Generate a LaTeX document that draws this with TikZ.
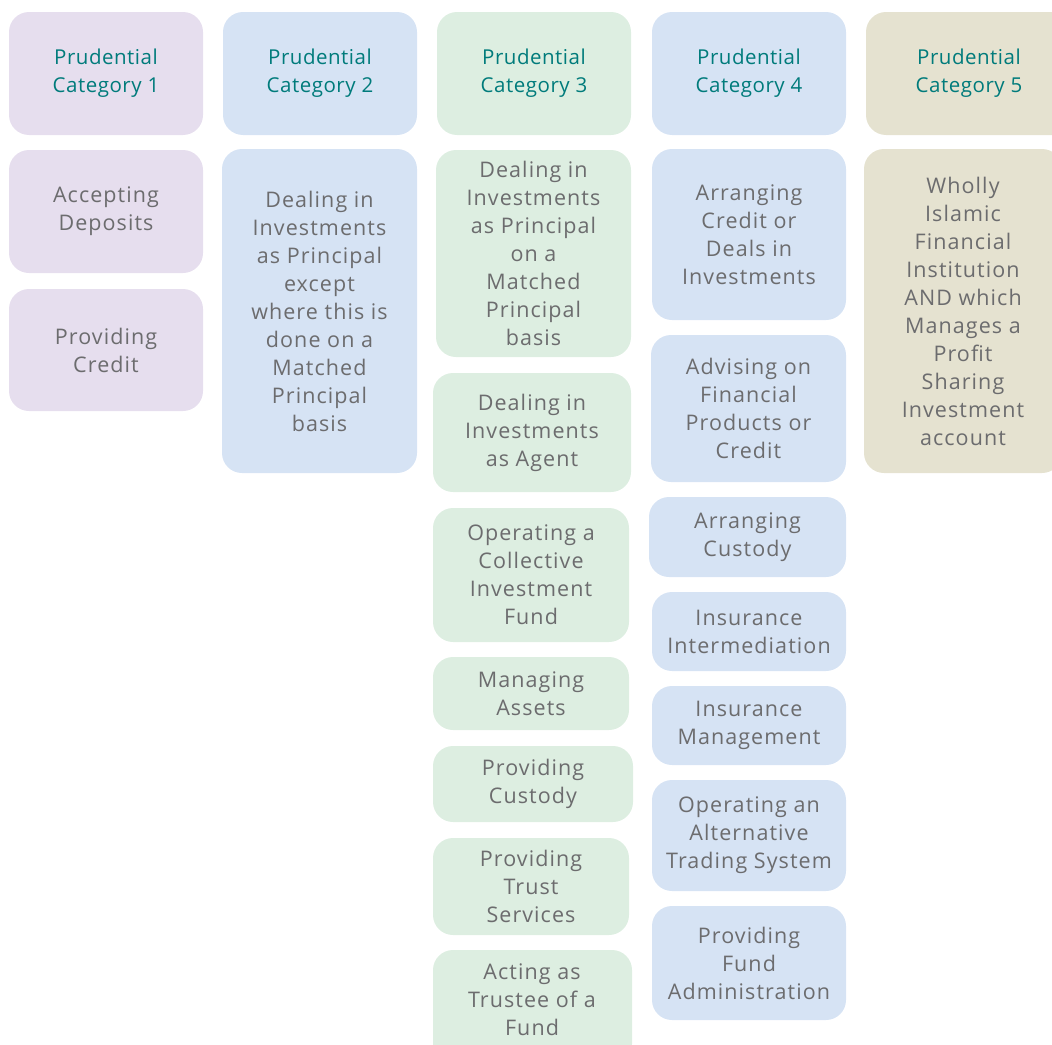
\documentclass[tikz,border=0pt]{standalone}
\usepackage{fontspec}
\setmainfont{Open Sans}
\newfontfamily\bodyfont[LetterSpace=5]{Open Sans}
\newfontfamily\headfont[LetterSpace=2.5]{Open Sans}
\definecolor{cpurple}{HTML}{E6DEEE}
\definecolor{cblue}{HTML}{D6E3F4}
\definecolor{cgreen}{HTML}{DDEEE1}
\definecolor{ctan}{HTML}{E5E2D0}
\definecolor{teal}{HTML}{007B7B}
\definecolor{gtext}{HTML}{6C6C6E}
\newcommand{\bx}[8]{%
  \node[#6, minimum width={#4-#2}, minimum height={#5-#3}] (#1) at ({(#2+#4)/2},{-(#3+#5)/2}) {#7};}
\tikzset{
  boxbase/.style={draw=none, rounded corners=20pt, inner sep=0pt, align=center},
  head/.style={boxbase, text=teal, font=\headfont\fontsize{20.5}{28}\selectfont},
  body/.style={boxbase, text=gtext, font=\bodyfont\fontsize{21.5}{28}\selectfont},
}
\begin{document}
\begin{tikzpicture}[x=1pt,y=1pt]
\useasboundingbox (0,0) rectangle (1052,-1044);
\clip (0,0) rectangle (1052,-1044);
% headers
\bx{h1}{9}{12}{203}{135}{head, fill=cpurple}{Prudential\\Category 1}{}
\bx{h2}{223}{12}{417}{135}{head, fill=cblue}{Prudential\\Category 2}{}
\bx{h3}{437}{12}{631}{135}{head, fill=cgreen}{Prudential\\Category 3}{}
\bx{h4}{652}{12}{846}{135}{head, fill=cblue}{Prudential\\Category 4}{}
\bx{h5}{866}{12}{1072}{135}{head, fill=ctan}{Prudential\\Category 5}{}
% column 1
\bx{a1}{9}{150}{203}{273}{body, fill=cpurple}{Accepting\\Deposits}{}
\bx{a2}{9}{289}{203}{411}{body, fill=cpurple}{Providing\\Credit}{}
% column 2
\bx{b1}{222}{149}{417}{473}{body, fill=cblue}{Dealing in\\Investments\\as Principal\\except\\where this is\\done on a\\Matched\\Principal\\basis}{}
% column 3
\bx{c1}{436}{150}{631}{357}{body, fill=cgreen}{Dealing in\\Investments\\as Principal\\on a\\Matched\\Principal\\basis}{}
\bx{c2}{433}{373}{631}{492}{body, fill=cgreen}{Dealing in\\Investments\\as Agent}{}
\bx{c3}{433}{508}{629}{642}{body, fill=cgreen}{Operating a\\Collective\\Investment\\Fund}{}
\bx{c4}{433}{657}{629}{730}{body, fill=cgreen}{Managing\\Assets}{}
\bx{c5}{433}{746}{633}{822}{body, fill=cgreen}{Providing\\Custody}{}
\bx{c6}{433}{838}{629}{935}{body, fill=cgreen}{Providing\\Trust\\Services}{}
\bx{c7}{433}{950}{632}{1064}{body, fill=cgreen}{}{}
\node[body] (c7t) at (532,-1000) {Acting as\\Trustee of a\\Fund};
% column 4
\bx{d1}{652}{149}{846}{320}{body, fill=cblue}{Arranging\\Credit or\\Deals in\\Investments}{}
\bx{d2}{651}{335}{846}{482}{body, fill=cblue}{Advising on\\Financial\\Products or\\Credit}{}
\bx{d3}{649}{497}{846}{577}{body, fill=cblue}{Arranging\\Custody}{}
\bx{d4}{652}{592}{846}{671}{body, fill=cblue}{Insurance\\Intermediation}{}
\bx{d5}{652}{686}{846}{765}{body, fill=cblue}{Insurance\\Management}{}
\bx{d6}{652}{780}{846}{891}{body, fill=cblue}{Operating an\\Alternative\\Trading System}{}
\bx{d7}{652}{906}{846}{1020}{body, fill=cblue}{Providing\\Fund\\Administration}{}
% column 5
\bx{e1}{864}{149}{1062}{473}{body, fill=ctan}{Wholly\\Islamic\\Financial\\Institution\\AND which\\Manages a\\Profit\\Sharing\\Investment\\account}{}
\end{tikzpicture}
\end{document}
